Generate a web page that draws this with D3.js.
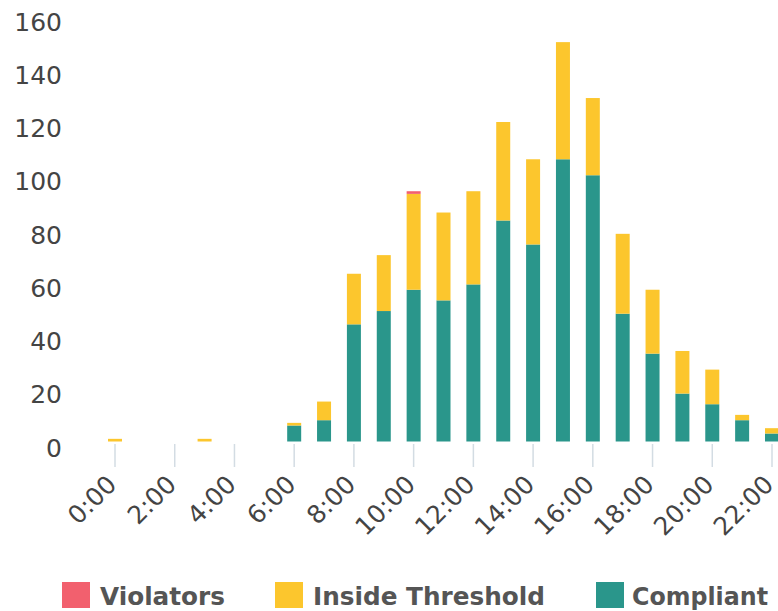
<!DOCTYPE html>
<html>
<head>
<meta charset="utf-8">
<script src="https://cdn.jsdelivr.net/npm/d3@7"></script>
<style>
  html, body { margin: 0; padding: 0; background: #fff; }
  svg { display: block; }
</style>
</head>
<body>
<svg id="chart" width="778" height="611"></svg>
<script>
// ---- data ----
const hours = [0,1,2,3,4,5,6,7,8,9,10,11,12,13,14,15,16,17,18,19,20,21,22];
const compliant = [0,0,0,0,0,0,6,8,44,49,57,53,59,83,74,106,100,48,33,18,14,8,3];
const insideThreshold = [1,0,0,1,0,0,1,7,19,21,36,33,35,37,32,44,29,30,24,16,13,2,2];
const violators = [0,0,0,0,0,0,0,0,0,0,1,0,0,0,0,0,0,0,0,0,0,0,0];
const yTicks = [0,20,40,60,80,100,120,140,160];
const xTickHours = [0,2,4,6,8,10,12,14,16,18,20,22];
const seriesNames = ["Violators", "Inside Threshold", "Compliant"];
const seriesColors = ["#f2606e", "#fcc62d", "#2a968b"];

// ---- layout ----
const svg = d3.select("#chart");
const x = d3.scaleLinear().domain([0, 22]).range([115, 772]);
const y = d3.scaleLinear().domain([0, 160]).range([441.5, 15.5]);
const barW = 14;
const font = "'DejaVu Sans', Verdana, sans-serif";

// y-axis labels
svg.append("g").selectAll("text").data(yTicks).join("text")
  .attr("x", 62).attr("y", d => y(d) + 15)
  .attr("text-anchor", "end")
  .attr("font-family", font).attr("font-size", 25)
  .attr("fill", "#444")
  .text(d => d);

// x ticks
const xg = svg.append("g");
xg.selectAll("line").data(xTickHours).join("line")
  .attr("x1", d => x(d)).attr("x2", d => x(d))
  .attr("y1", 444).attr("y2", 467)
  .attr("stroke", "#d3dce3").attr("stroke-width", 1.5);
xg.selectAll("text").data(xTickHours).join("text")
  .attr("transform", d => `translate(${x(d) + 3},486) rotate(-45)`)
  .attr("text-anchor", "end")
  .attr("font-family", font).attr("font-size", 25)
  .attr("fill", "#444")
  .text(d => d + ":00");

// stacked bars
const rows = hours.map((h, i) => ({
  hour: h,
  "Compliant": compliant[i],
  "Inside Threshold": insideThreshold[i],
  "Violators": violators[i]
}));
const stackOrder = ["Compliant", "Inside Threshold", "Violators"];
const stacked = d3.stack().keys(stackOrder)(rows);
const colorOf = k => seriesColors[seriesNames.indexOf(k)];

svg.append("g").selectAll("g").data(stacked).join("g")
  .attr("fill", s => colorOf(s.key))
  .selectAll("rect").data(s => s.filter(d => d[1] - d[0] > 0)).join("rect")
  .attr("x", d => x(d.data.hour) - barW / 2)
  .attr("width", barW)
  .attr("y", d => y(d[1]))
  .attr("height", d => y(d[0]) - y(d[1]));

// legend
const legendX = [62, 275, 596];
const legendTextDx = [38, 38, 36];
const legendTextW = [125, 232, 136];
const lg = svg.append("g").selectAll("g").data(seriesNames).join("g")
  .attr("transform", (d, i) => `translate(${legendX[i]},582)`);
lg.append("rect").attr("width", 28).attr("height", 26)
  .attr("fill", (d, i) => seriesColors[i]);
lg.append("text").attr("x", (d, i) => legendTextDx[i]).attr("y", 23)
  .attr("font-family", font).attr("font-size", 24.5).attr("font-weight", "bold")
  .attr("fill", "#555")
  .attr("textLength", (d, i) => legendTextW[i])
  .attr("lengthAdjust", "spacingAndGlyphs")
  .text(d => d);
</script>
</body>
</html>
